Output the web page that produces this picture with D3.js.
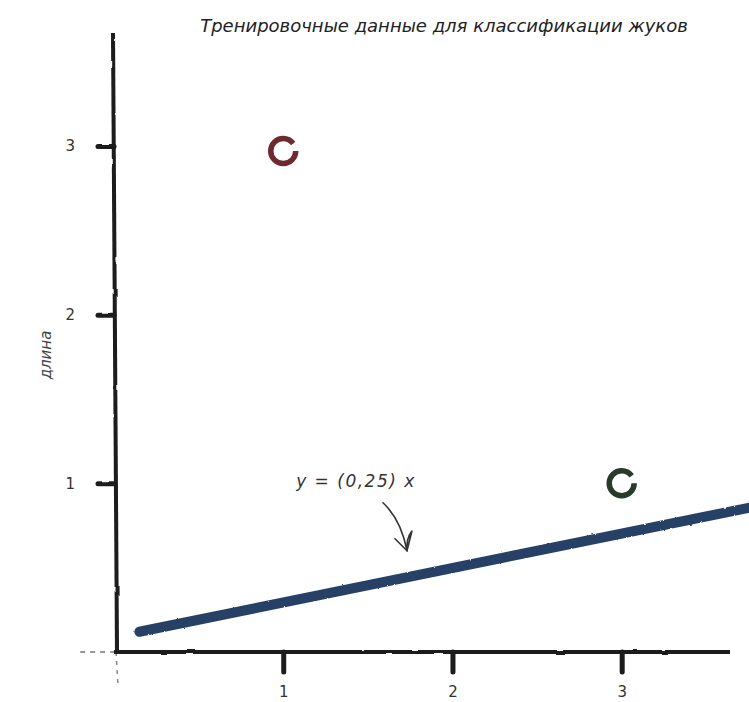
<!DOCTYPE html>
<html>
<head>
<meta charset="utf-8">
<script src="https://cdn.jsdelivr.net/npm/d3@7"></script>
<style>
	body { margin: 0; background: #fff; }
	svg { display: block; }
	.tick text { font-family: "DejaVu Sans", sans-serif; fill: #333; }
</style>
</head>
<body>
<svg id="chart" width="749" height="702"></svg>
<script>
// data
var titleText = "Тренировочные данные для классификации жуков";
var yLabel = "длина";
var tickValues = [1, 2, 3];
var pointX = [1, 3];
var pointY = [3, 1];
var pointColor = ["#6e2a2e", "#263a2c"];
// fitted line as drawn (end points)
var lineX = [0.15, 3.75];
var lineY = [0.12, 0.855];
var lineLabel = "y = (0,25) x";

var svg = d3.select("#chart");

// rough, hand drawn look (big user space region: the axis groups are translated)
var defs = svg.append("defs");
function roughFilter(id, freq, scale) {
	var f = defs.append("filter").attr("id", id)
		.attr("filterUnits", "userSpaceOnUse")
		.attr("x", -800).attr("y", -800).attr("width", 2400).attr("height", 2400);
	f.append("feTurbulence")
		.attr("type", "fractalNoise")
		.attr("baseFrequency", freq)
		.attr("numOctaves", 2)
		.attr("result", "noise");
	f.append("feDisplacementMap")
		.attr("in", "SourceGraphic")
		.attr("in2", "noise")
		.attr("scale", scale);
}
roughFilter("rough", 0.04, 2.5);
roughFilter("roughLine", 0.3, 2);

var x = d3.scaleLinear().domain([0, 3.64]).range([114, 730]);
var y = d3.scaleLinear().domain([0, 3.67]).range([652, 33]);

// title
svg.append("text")
	.attr("x", 444)
	.attr("y", 32)
	.attr("text-anchor", "middle")
	.style("font-family", "'DejaVu Sans', sans-serif")
	.style("font-style", "italic")
	.style("font-size", "18px")
	.style("fill", "#222")
	.text(titleText);

// y label
svg.append("text")
	.attr("transform", "translate(51," + 355 + ") rotate(-90)")
	.attr("text-anchor", "middle")
	.style("font-family", "'DejaVu Sans', sans-serif")
	.style("font-style", "italic")
	.style("font-size", "15px")
	.style("fill", "#444")
	.text(yLabel);

// faint dashed extensions past the origin
svg.append("line")
	.attr("x1", x(-0.2)).attr("x2", x(0))
	.attr("y1", y(0)).attr("y2", y(0))
	.style("stroke", "#777")
	.style("stroke-width", 1.5)
	.style("stroke-dasharray", "5,5");
svg.append("line")
	.attr("x1", x(0) + 2).attr("x2", x(0) + 4)
	.attr("y1", y(0)).attr("y2", y(-0.2))
	.style("stroke", "#888")
	.style("stroke-width", 1.5)
	.style("stroke-dasharray", "4,5");

// axes
var yAxis = svg.append("g")
	.attr("transform", "translate(" + x(0) + ",0)")
	.call(d3.axisLeft(y).tickValues(tickValues).tickSize(20).tickPadding(19).tickFormat(d3.format("d")));
var xAxis = svg.append("g")
	.attr("transform", "translate(0," + y(0) + ")")
	.call(d3.axisBottom(x).tickValues(tickValues).tickSize(20).tickPadding(14).tickFormat(d3.format("d")));

[yAxis, xAxis].forEach(function(ax) {
	ax.select(".domain")
		.style("stroke", "#1a1a1a")
		.style("stroke-width", 4)
		.style("filter", "url(#rough)");
	ax.selectAll(".tick line")
		.style("stroke", "#1a1a1a")
		.style("stroke-width", 5)
		.style("stroke-linecap", "round")
		.style("filter", "url(#rough)");
	ax.selectAll(".tick text")
		.style("font-size", "15px");
});
// axis lines without the end caps of the domain path; the y axis leans a little
yAxis.select(".domain").attr("d", "M-1," + y(3.67) + "L3," + y(0));
xAxis.select(".domain").attr("d", "M" + x(0) + ",0H" + x(3.64));
// y ticks only stick out a little to the left
yAxis.selectAll(".tick line").attr("x2", -16);
xAxis.selectAll(".tick line").attr("y2", 20);

// fitted line
var lineData = lineX.map(function(d, i) { return [d, lineY[i]]; });
svg.append("path")
	.datum(lineData)
	.attr("d", d3.line().x(function(d) { return x(d[0]); }).y(function(d) { return y(d[1]); }))
	.style("fill", "none")
	.style("stroke", "#253f66")
	.style("stroke-width", 10)
	.style("stroke-linecap", "round")
	.style("filter", "url(#roughLine)");

// points
svg.selectAll(".point")
	.data(pointX.map(function(d, i) { return {x: d, y: pointY[i], c: pointColor[i]}; }))
	.enter()
	.append("circle")
	.classed("point", true)
	.attr("cx", function(d) { return x(d.x); })
	.attr("cy", function(d) { return y(d.y) + (d.y == 3 ? 5 : 0); })
	.attr("r", 12.5)
	.style("fill", "none")
	.style("stroke", function(d) { return d.c; })
	.style("stroke-width", 5.5)
	.style("stroke-dasharray", "70,9")
	.style("filter", "url(#rough)");

// annotation
var ax0 = x(1.43), ay0 = y(0.98);
svg.append("text")
	.attr("x", ax0)
	.attr("y", ay0)
	.attr("text-anchor", "middle")
	.style("font-family", "'DejaVu Sans', sans-serif")
	.style("font-style", "italic")
	.style("font-size", "17px")
	.style("letter-spacing", "1.5px")
	.style("fill", "#333")
	.text(lineLabel);
var arrow = svg.append("g")
	.style("fill", "none")
	.style("stroke", "#333")
	.style("stroke-width", 1.6)
	.style("stroke-linecap", "round");
arrow.append("path")
	.attr("d", "M" + (ax0 + 27) + "," + (ay0 + 16) + " Q" + (ax0 + 45) + "," + (ay0 + 33) + " " + (ax0 + 51) + "," + (ay0 + 64));
arrow.append("path")
	.attr("d", "M" + (ax0 + 39) + "," + (ay0 + 52) + " L" + (ax0 + 51) + "," + (ay0 + 64) +
		" L" + (ax0 + 56) + "," + (ay0 + 44) + " Q" + (ax0 + 50) + "," + (ay0 + 52) + " " + (ax0 + 51) + "," + (ay0 + 64));
</script>
</body>
</html>
